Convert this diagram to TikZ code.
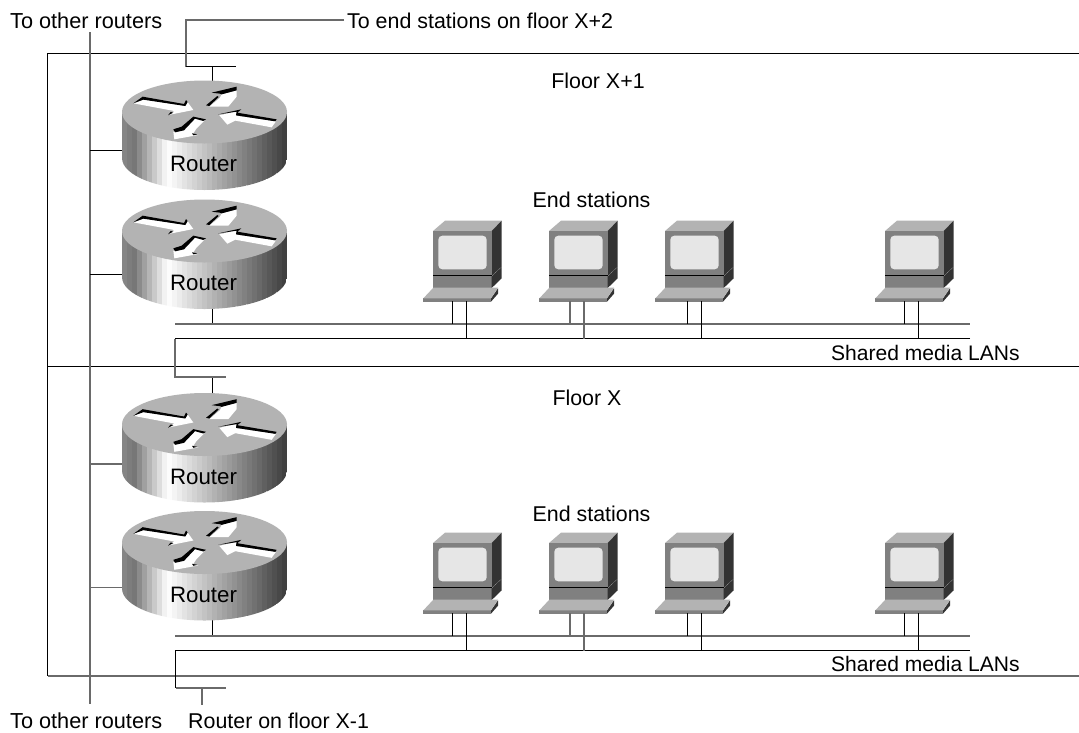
\documentclass[tikz,border=0pt]{standalone}
\usepackage{fontspec}
\setmainfont{Liberation Sans}
\definecolor{capgray}{HTML}{B3B3B3}
\definecolor{frontgray}{HTML}{808080}
\definecolor{darkside}{HTML}{333333}
\definecolor{screengray}{HTML}{E6E6E6}
\definecolor{wiregray}{HTML}{6A6A6A}
\tikzset{
  wire/.style={line width=1.3pt,black,line cap=butt,line join=miter},
  greywire/.style={line width=1.7pt,wiregray,line cap=butt,line join=miter},
  lbl/.style={font=\fontsize{21.4}{24}\selectfont,inner sep=0pt,text=black},
  lblw/.style={lbl,anchor=west},
  lblwide/.style={lblw,font=\fontsize{21.7}{24}\selectfont},
  lblnarrow/.style={lblw,font=\fontsize{21.05}{24}\selectfont},
  lblrouter/.style={lbl,font=\fontsize{22.3}{24}\selectfont},
  zoomed/.style={x=0.33333pt,y=-0.33333pt}
}
% router: name, cx, cy
\newcommand{\routericon}[3]{%
  \begin{scope}
    \clip (#2-82.5,#3) -- (#2-82.5,#3+46) arc[start angle=180,end angle=0,x radius=82.5,y radius=32] -- (#2+82.5,#3) -- cycle;
    \foreach \i in {0,...,32}{%
      \pgfmathsetmacro{\t}{\i/32}%
      \pgfmathsetmacro{\v}{\t<0.06 ? 52-100*\t : (\t<0.27 ? 46+54*(\t-0.06)/0.21 : 100-75*(\t-0.27)/0.73)}%
      \fill[white!\v!black]
        (#2-82.5+5*\i,#3-2) rectangle ++(5.3,90);
    }
  \end{scope}
  \fill[capgray] (#2,#3) ellipse[x radius=82.5,y radius=31.5];
  \begin{scope}[shift={(#2-124.5,#3-62)},zoomed]
    % upper-left arrow
    \fill[white] (160,160) -- (190,148) -- (315,168) -- (322,155) -- (340,180) -- (265,195) -- (283,183) -- cycle;
    \fill[black] (160,160) -- (188,140) -- (312,162) -- (318,150) -- (323,156) -- (316,168) -- (190,149) -- cycle;
    \fill[black] (264,196) -- (272,186) -- (280,188) -- cycle;
    % upper-right arrow
    \fill[white] (425,133) -- (470,121) -- (470,140) -- (445,170) -- (388,170) -- (420,143) -- cycle;
    \fill[black] (395,128) -- (470,110) -- (470,121) -- (425,133) -- (420,131) -- cycle;
    \fill[black] (378,166) -- (412,138) -- (416,141) -- (388,168) -- cycle;
    % right arrow
    \fill[white] (418,196) -- (470,184) -- (468,197) -- (588,214) -- (575,232) -- (466,212) -- (442,224) -- cycle;
    \fill[black] (415,193) -- (484,178) -- (472,188) -- (590,208) -- (586,214) -- (468,196) -- (470,185) -- cycle;
    % lower arrow
    \fill[white] (280,245) -- (310,240) -- (345,205) -- (375,210) -- (350,235) -- (338,253) -- (355,255) -- (283,268) -- cycle;
    \fill[black] (280,238) -- (305,230) -- (340,200) -- (378,208) -- (370,213) -- (345,206) -- (312,241) -- (285,247) -- cycle;
    \fill[black] (336,250) -- (352,253) -- (340,256) -- cycle;
  \end{scope}
  \node[lblrouter] (#1-text) at (#2-1,#3+52) {Router};
}
% end station: name, x of front face, y of front face top, leg offsets
\newcommand{\station}[5]{%
  \begin{scope}[shift={(#2-23,#3-31)},zoomed]
    \fill[capgray] (69,93) -- (105,62) -- (275,62) -- (245,93) -- cycle;
    \fill[darkside] (245,93) -- (275,62) -- (275,200) -- (245,228) -- cycle;
    \fill[frontgray] (69,93) rectangle (245,225);
    \fill[screengray,rounded corners=4pt] (85,107) rectangle (230,208);
    \fill[black] (69,225) rectangle (245,229);
    \fill[frontgray] (69,229) rectangle (245,264);
    \fill[darkside] (245,229) -- (275,201) -- (275,235) -- (245,264) -- cycle;
    \fill[frontgray] (40,295) rectangle (243,305);
    \fill[darkside] (243,295) -- (264,265) -- (264,281) -- (243,305) -- cycle;
    \fill[capgray] (40,295) -- (70,263) -- (264,263) -- (243,295) -- cycle;
  \end{scope}
  \coordinate (#1-a) at (#2+#4,#3+70);
  \coordinate (#1-b) at (#2+#5,#3+70);
}
\begin{document}
\begin{tikzpicture}[x=1pt,y=-1pt]
\useasboundingbox (0,0) rectangle (1079,732);
\fill[white] (0,0) rectangle (1079,732);

% named free ends and junctions
\coordinate (tl) at (47.5,53.5);   \coordinate (tr) at (1079,53.5);
\coordinate (ml) at (47.5,366.5);  \coordinate (mr) at (1079,366.5);
\coordinate (bl) at (47.5,676);  \coordinate (br) at (1079,676);
\coordinate (bl2) at (47.5,676);
\coordinate (rtop) at (90,32); \coordinate (rbot) at (90,704);
\coordinate (up0) at (186,66.5); \coordinate (up1) at (186,20); \coordinate (up2) at (344,20);
\coordinate (tee1a) at (236,66.5);
\coordinate (lan1s) at (175,324); \coordinate (lan1e) at (970,324);
\coordinate (lan2s) at (175,338.5); \coordinate (lan2e) at (970,338.5);
\coordinate (lan3s) at (175,636); \coordinate (lan3e) at (970,636);
\coordinate (lan4s) at (175,650.5); \coordinate (lan4e) at (970,650.5);
\coordinate (tee2s) at (175,377); \coordinate (tee2e) at (226,377);
\coordinate (tee3s) at (175.5,688); \coordinate (tee3e) at (226,688);
\coordinate (tee3m) at (202,688); \coordinate (tee3b) at (202,705);
\coordinate (s1t) at (212.5,66);  \coordinate (s1b) at (212.5,85);
\coordinate (s2t) at (212.5,300); \coordinate (s2b) at (212.5,324);
\coordinate (s3t) at (212.5,378); \coordinate (s3b) at (212.5,398);
\coordinate (s4t) at (212.5,612); \coordinate (s4b) at (212.5,636);

% labels
\node[lblwide] (otherTop) at (10,20.5) {To other routers};
\node[lblw] (floor2) at (347,20.5) {To end stations on floor X+2};
\node[lbl] (fx1) at (598,81) {Floor X+1};
\node[lbl] (es1) at (591.5,200) {End stations};
\node[lblnarrow] (sm1) at (831,352.5) {Shared media LANs};
\node[lbl] (fx) at (587,397.5) {Floor X};
\node[lbl] (es2) at (591.5,513.5) {End stations};
\node[lblnarrow] (sm2) at (831,664) {Shared media LANs};
\node[lblwide] (otherBot) at (10,720.5) {To other routers};
\node[lblw] (floorm) at (188,720.5) {Router on floor X-1};

% building outline
\draw[wire] (tr) -- (tl) -- (bl);
\draw[greywire] (bl2) -- (br);
\draw[wire] (ml) -- (mr);
% riser
\draw[greywire] (rtop) -- (rbot);
\draw[greywire] (up2) -- (up1) -- (up0);
\draw[wire] (up0) -- (tee1a);
\draw[wire] (s1t) -- (s1b);
\draw[wire] (s2t) -- (s2b);
\draw[wire] (s3t) -- (s3b);
\draw[wire] (s4t) -- (s4b);
% LANs
\draw[greywire] (lan1s) -- (lan1e);
\draw[wire] (lan2e) -- (lan2s);
\draw[greywire] (lan2s) -- (tee2s) -- (tee2e);
\draw[greywire] (lan3s) -- (lan3e);
\draw[wire] (lan4e) -- (lan4s);
\draw[wire] (lan4s -| tee3s) -- (tee3s);
\draw[greywire] (tee3s) -- (tee3e);
\draw[greywire] (tee3m) -- (tee3b);
% router links to the riser
\coordinate (j1) at (90,150.5);  \coordinate (k1) at (126,150.5);
\coordinate (j2) at (90,274.5);  \coordinate (k2) at (126,274.5);
\coordinate (j3) at (90,464);    \coordinate (k3) at (126,464);
\coordinate (j4) at (90,587.5);  \coordinate (k4) at (126,587.5);
\draw[wire] (j1) -- (k1);
\draw[wire] (j2) -- (k2);
\draw[greywire] (j3) -- (k3);
\draw[greywire] (j4) -- (k4);

% routers
\routericon{r1}{204.5}{112}
\routericon{r2}{204.5}{231}
\routericon{r3}{204.5}{424.5}
\routericon{r4}{204.5}{542.5}

% end stations, floor X+1
\station{a1}{433}{231}{19.5}{33.5}
\station{a2}{549}{231}{21}{35}
\station{a3}{665}{231}{22.5}{36.5}
\station{a4}{885}{231}{19.5}{33.5}
% end stations, floor X
\station{b1}{433}{543}{19.5}{33.5}
\station{b2}{549}{543}{21}{35}
\station{b3}{665}{543}{22.5}{36.5}
\station{b4}{885}{543}{19.5}{33.5}

\foreach \c/\w in {a1/wire,a2/greywire,a3/wire,a4/wire}{
  \draw[\w] (\c-a) -- (\c-a |- lan1s);
  \draw[\w] (\c-b) -- (\c-b |- lan2s);
}
\foreach \c/\w in {b1/wire,b2/greywire,b3/wire,b4/wire}{
  \draw[\w] (\c-a) -- (\c-a |- lan3s);
  \draw[\w] (\c-b) -- (\c-b |- lan4s);
}
\end{tikzpicture}
\end{document}
